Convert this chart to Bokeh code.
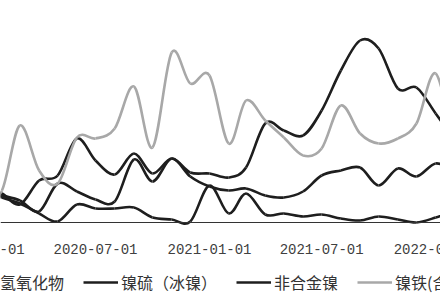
import numpy as np
import pandas as pd
from bokeh.plotting import figure
from bokeh.models import (Range1d, Legend, LegendItem, Span, ColumnDataSource)
from bokeh.core.properties import value
from bokeh.embed import file_html
from bokeh.resources import INLINE

# ---- data (monthly) ----
months = pd.date_range("2020-01-01", "2022-02-01", freq="MS")

hydroxide = [1.85, 1.45, 0.9, 2.1, 2.35, 4.2, 3.1, 2.4, 3.45, 2.45, 3.2, 2.5, 2.45,
             2.25, 2.75, 4.95, 4.6, 4.35, 5.6, 7.6, 9.1, 8.7, 6.7, 6.75, 5.45, 4.1]
matte = [1.6, 1.35, 1.1, 0.55, 1.95, 1.55, 1.15, 1.05, 3.15, 2.05, 3.2, 2.3, 1.8,
         1.6, 1.7, 1.35, 1.25, 1.55, 2.35, 2.6, 2.75, 1.85, 2.7, 2.3, 2.95, 2.6]
unalloyed = [1.6, 1.25, 0.95, 0.45, 0.05, 0.9, 0.7, 0.7, 0.75, 0.25, 0.15, 0.05, 1.85,
             0.45, 1.45, 0.4, 0.45, 0.3, 0.4, 0.2, 0.1, 0.3, 0.15, 0.0, 0.25, 0.6]
ferronickel = [1.1, 1.6, 4.85, 2.6, 1.95, 4.25, 4.2, 4.7, 6.8, 3.75, 8.5, 6.95, 7.35,
               3.95, 6.1, 5.1, 4.25, 3.35, 3.7, 5.85, 4.45, 3.95, 4.2, 4.95, 7.45, 3.6]

series_names = ["氢氧化物", "镍硫（冰镍）", "非合金镍", "镍铁(含镍)"]
series_values = [hydroxide, matte, unalloyed, ferronickel]
series_colors = ["#1e1e1e", "#1e1e1e", "#1e1e1e", "#a8a8a8"]

tick_dates = ["2020-01-01", "2020-07-01", "2021-01-01", "2021-07-01", "2022-01-01"]

# ---- helpers ----
def ms(ts):
    return pd.Timestamp(ts).value / 1e6

xs = np.array([ms(m) for m in months])

def bezier_source(xv, yv):
    yv = np.asarray(yv, dtype=float)
    n = len(xv)
    d = dict(x0=[], y0=[], x1=[], y1=[], cx0=[], cy0=[], cx1=[], cy1=[])
    for i in range(n - 1):
        im = max(i - 1, 0)
        ip = min(i + 2, n - 1)
        d["x0"].append(xv[i]); d["y0"].append(yv[i])
        d["x1"].append(xv[i + 1]); d["y1"].append(yv[i + 1])
        d["cx0"].append(xv[i] + (xv[i + 1] - xv[im]) / 6.0)
        d["cy0"].append(yv[i] + (yv[i + 1] - yv[im]) / 6.0)
        d["cx1"].append(xv[i + 1] - (xv[ip] - xv[i]) / 6.0)
        d["cy1"].append(yv[i + 1] - (yv[ip] - yv[i]) / 6.0)
    return ColumnDataSource(d)

# ---- figure: the frame covers the whole window (the original is cropped) ----
px_per_day = 0.6196
x_start = pd.Timestamp("2020-07-01") - pd.Timedelta(days=95 / px_per_day)
x_end = x_start + pd.Timedelta(days=440 / px_per_day)
units_per_px = 0.05
y_bottom = -78 * units_per_px
y_top = 222 * units_per_px

p = figure(width=440, height=300, x_axis_type="datetime",
           x_range=Range1d(ms(x_start), ms(x_end)),
           y_range=Range1d(y_bottom, y_top),
           output_backend="svg", toolbar_location=None,
           min_border=0, x_axis_location=None, y_axis_location=None)
p.outline_line_color = None
p.xgrid.visible = False
p.ygrid.visible = False
p.background_fill_color = "white"
p.border_fill_color = "white"

# axis line at zero
p.add_layout(Span(location=0, dimension="width", line_color="#333333", line_width=1))

# date tick labels (partly cut by the window edges as in the original)
tick_src = ColumnDataSource(dict(x=[ms(t) for t in tick_dates],
                                 y=[-26 * units_per_px] * len(tick_dates),
                                 t=tick_dates))
p.text(x="x", y="y", text="t", source=tick_src, text_align="center",
       text_baseline="middle", text_font=value("Liberation Mono"),
       text_font_size="14px", text_color="#404040")

legend_items = []
for name, vals, col in zip(series_names, series_values, series_colors):
    p.bezier(x0="x0", y0="y0", x1="x1", y1="y1", cx0="cx0", cy0="cy0",
             cx1="cx1", cy1="cy1", source=bezier_source(xs, vals),
             line_color=col, line_width=2.6)
    # single-point line: draws nothing in the plot, provides the legend swatch
    r = p.line(x=[xs[0]], y=[vals[0]], line_color=col, line_width=2.6)
    legend_items.append(LegendItem(label=name, renderers=[r]))

legend = Legend(items=legend_items, orientation="horizontal",
                location=(-38, 6), glyph_width=35, glyph_height=16,
                label_standoff=3, spacing=19, padding=0, margin=0,
                border_line_alpha=0, background_fill_alpha=0,
                label_text_font="Noto Sans CJK SC", label_text_font_size="16px",
                label_text_color="#333333")
p.add_layout(legend, "center")

open("out.html", "w").write(file_html(p, INLINE))
